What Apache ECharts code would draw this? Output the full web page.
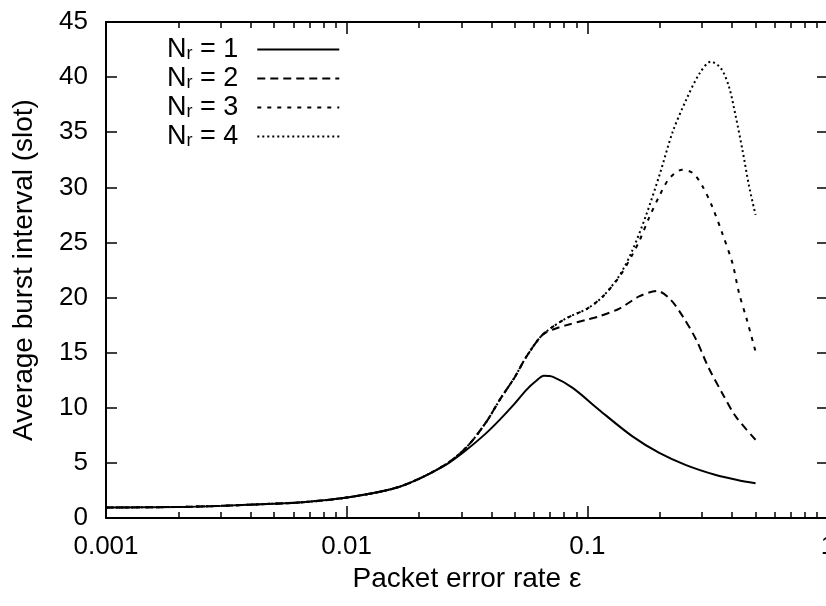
<!DOCTYPE html>
<html>
<head>
<meta charset="utf-8">
<script src="https://cdn.jsdelivr.net/npm/echarts@6/dist/echarts.min.js"></script>
<style>
html,body{margin:0;padding:0;background:#fff;}
#c{width:826px;height:606px;}
</style>
</head>
<body>
<div id="c"></div>
<script>
// ---- data ----
var seriesNames = ['Nr = 1', 'Nr = 2', 'Nr = 3', 'Nr = 4'];
var legendLabels = ['1', '2', '3', '4'];

var n1X = [0.001,0.002,0.003,0.005,0.0065,0.01,0.0166,0.0251,0.0314,0.038,0.0432,0.05,0.0557,0.061,0.066,0.072,0.0869,0.112,0.154,0.199,0.257,0.342,0.42,0.5];
var n1Y = [0.95,1.0,1.1,1.3,1.42,1.85,2.84,4.66,6.17,7.7,8.9,10.4,11.6,12.4,12.9,12.8,11.8,9.8,7.4,5.9,4.8,3.9,3.45,3.15];

var n2X = [0.001,0.002,0.003,0.005,0.0065,0.01,0.0166,0.0251,0.0314,0.038,0.0432,0.05,0.0557,0.065,0.072,0.082,0.1,0.112,0.136,0.164,0.195,0.222,0.249,0.283,0.318,0.364,0.414,0.5];
var n2Y = [0.95,1.0,1.1,1.3,1.42,1.85,2.84,4.7,6.4,8.7,10.7,12.8,14.6,16.6,17.1,17.5,18.0,18.3,19.0,20.1,20.6,19.8,18.3,16.2,13.7,11.3,9.2,7.1];

var n3X = [0.001,0.002,0.003,0.005,0.0065,0.01,0.0166,0.0251,0.0314,0.038,0.0432,0.05,0.0557,0.065,0.0815,0.1,0.116,0.136,0.154,0.165,0.181,0.2,0.219,0.248,0.274,0.301,0.331,0.364,0.401,0.427,0.46,0.5];
var n3Y = [0.95,1.0,1.1,1.3,1.42,1.85,2.84,4.7,6.4,8.7,10.7,12.8,14.6,16.6,18.1,19.0,20.1,21.9,23.9,25.2,27.3,29.3,30.8,31.6,31.3,30.1,28.2,25.8,23.1,20.4,18.0,15.1];

var n4X = [0.001,0.002,0.003,0.005,0.0065,0.01,0.0166,0.0251,0.0314,0.038,0.0432,0.05,0.0557,0.065,0.0815,0.1,0.116,0.136,0.154,0.175,0.2,0.226,0.257,0.292,0.326,0.359,0.388,0.414,0.441,0.47,0.5];
var n4Y = [0.95,1.0,1.1,1.3,1.42,1.85,2.84,4.7,6.4,8.7,10.7,12.8,14.6,16.6,18.1,19.0,20.1,22.0,24.3,27.4,31.2,35.0,37.9,40.3,41.4,40.8,39.1,36.4,33.4,30.1,27.5];

var xMajorTicks = [0.001, 0.01, 0.1, 1];
var xTickLabels = ['0.001', '0.01', '0.1', '1'];
var xMinorTicks = [0.002,0.003,0.004,0.005,0.006,0.007,0.008,0.009,
                   0.02,0.03,0.04,0.05,0.06,0.07,0.08,0.09,
                   0.2,0.3,0.4,0.5,0.6,0.7,0.8,0.9];
var xTitle = 'Packet error rate \u03b5';
var yTitle = 'Average burst interval (slot)';

// ---- chart ----
function pairs(xs, ys){ return xs.map(function(x,i){ return [x, ys[i]]; }); }
var FONT = '"Liberation Sans", Arial, Helvetica, sans-serif';
var dashes = ['solid', [8,5], [4,6], [2,3]];
var datas = [pairs(n1X,n1Y), pairs(n2X,n2Y), pairs(n3X,n3Y), pairs(n4X,n4Y)];

function xAx(gridIndex, pos, major, withLabels){
  return {
    type: 'log', logBase: 10, min: 0.001, max: 1, position: pos, gridIndex: gridIndex,
    axisLine: { show: major, onZero: false, lineStyle: { color: '#000', width: 2 } },
    axisTick: { show: true, inside: true, length: major ? 12 : 6,
      customValues: major ? xMajorTicks : xMinorTicks,
      lineStyle: { color: '#000', width: 1.5 } },
    axisLabel: withLabels ? {
      show: true, customValues: xMajorTicks, margin: 16,
      fontFamily: FONT, fontSize: 26, color: '#000',
      formatter: function(v){
        for (var i = 0; i < xMajorTicks.length; i++) {
          if (Math.abs(Math.log10(v) - Math.log10(xMajorTicks[i])) < 1e-6) return xTickLabels[i];
        }
        return '';
      }
    } : { show: false },
    splitLine: { show: false },
    name: withLabels ? xTitle : '',
    nameLocation: 'middle', nameGap: 38,
    nameTextStyle: { fontFamily: FONT, fontSize: 28, color: '#000' }
  };
}

var gridBox = { left: 106, right: -2, top: 22, bottom: 88, containLabel: false, outerBoundsMode: 'none' };

var chart = echarts.init(document.getElementById('c'), null, { renderer: 'canvas' });
chart.setOption({
  backgroundColor: '#fff',
  animation: false,
  grid: [ Object.assign({}, gridBox), Object.assign({}, gridBox) ],
  xAxis: [ xAx(0, 'bottom', true, true), xAx(0, 'top', true, false), xAx(1, 'bottom', false, false), xAx(1, 'top', false, false) ],
  yAxis: [
    { type: 'value', gridIndex: 0, min: 0, max: 45, interval: 5, position: 'left',
      axisLine: { show: true, lineStyle: { color: '#000', width: 2 } },
      axisTick: { inside: true, length: 11, lineStyle: { color: '#000', width: 1.5 } },
      axisLabel: { margin: 18, fontFamily: FONT, fontSize: 26, color: '#000' },
      splitLine: { show: false },
      name: yTitle, nameLocation: 'middle', nameGap: 68,
      nameTextStyle: { fontFamily: FONT, fontSize: 28, color: '#000' } },
    { type: 'value', gridIndex: 0, min: 0, max: 45, interval: 5, position: 'right',
      axisLine: { show: true, lineStyle: { color: '#000', width: 2 } },
      axisTick: { inside: true, length: 11, lineStyle: { color: '#000', width: 1.5 } },
      axisLabel: { show: false }, splitLine: { show: false } },
    { type: 'value', gridIndex: 1, min: 0, max: 45, interval: 5, show: false }
  ],
  legend: {
    orient: 'vertical', left: 167, top: 36, padding: 0,
    align: 'right', itemWidth: 82, itemHeight: 14, itemGap: 2,
    itemStyle: { opacity: 0 },
    data: seriesNames,
    formatter: function(name){
      var i = seriesNames.indexOf(name);
      return '{n|N}{s|r}{n| = ' + legendLabels[i] + '}{g|}';
    },
    textStyle: {
      color: '#000', fontFamily: FONT, fontSize: 27,
      rich: {
        n: { fontFamily: FONT, fontSize: 27, color: '#000', lineHeight: 27, verticalAlign: 'middle' },
        s: { fontFamily: FONT, fontSize: 18, color: '#000', lineHeight: 9, verticalAlign: 'bottom' },
        g: { width: 14 }
      }
    }
  },
  series: seriesNames.map(function(nm, i){
    return {
      name: nm, type: 'line', data: datas[i], xAxisIndex: 0, yAxisIndex: 0,
      showSymbol: false, symbol: 'none', smooth: 0.3,
      lineStyle: { color: '#000', width: 2, type: dashes[i] },
      itemStyle: { color: '#000' },
      z: 3
    };
  })
});
</script>
</body>
</html>
